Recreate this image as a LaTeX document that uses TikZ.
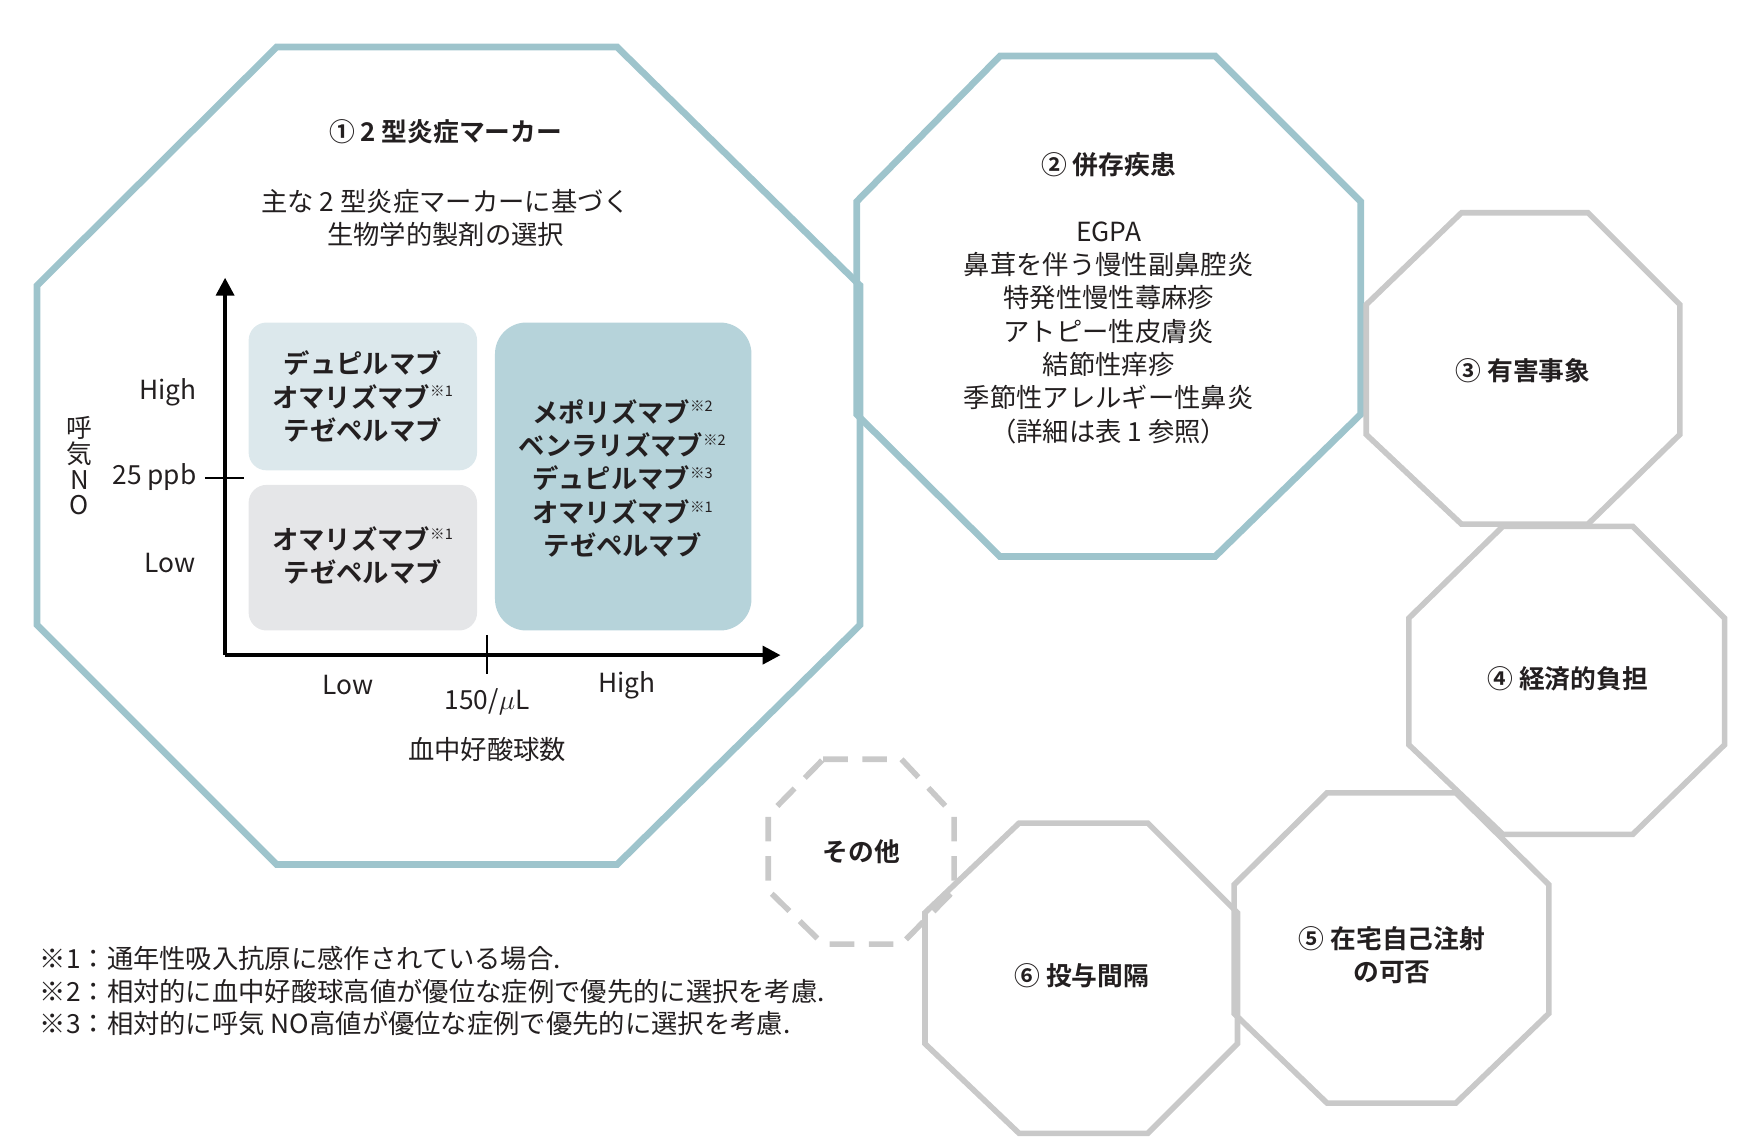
\documentclass[tikz,border=0pt]{standalone}
\usepackage{fontspec}
\setmainfont{Noto Sans CJK JP}
\newfontfamily\jpb{Noto Sans CJK JP Bold}
\usetikzlibrary{arrows.meta}
\definecolor{cblue}{HTML}{9EC4CC}
\definecolor{cgrey}{HTML}{C9C9C9}
\definecolor{bxa}{HTML}{DCE8EC}
\definecolor{bxb}{HTML}{E5E6E8}
\definecolor{bxc}{HTML}{B6D3DA}
\definecolor{txt}{HTML}{231F20}
\tikzset{
 octb/.style={draw=cblue,line width=6pt},
 octg/.style={draw=cgrey,line width=5pt},
 ttl/.style={font=\jpb\fontsize{23}{30}\selectfont,text=txt,align=center},
 bod/.style={font=\fontsize{23.5}{29.8}\selectfont,text=txt,align=center},
 drug/.style={font=\jpb\fontsize{23.5}{29.8}\selectfont,text=txt,align=center},
 note/.style={font=\fontsize{23.5}{29.5}\selectfont,text=txt,anchor=west},
}
\newcommand{\kome}[1]{\textsuperscript{\normalfont\fontsize{13}{13}\selectfont ※#1}}
\begin{document}
\begin{tikzpicture}[x=1pt,y=-1pt]
\useasboundingbox (0,0) rectangle (1560,1016);
% octagons
\draw[octb] (247,42)--(551,42)--(768,255)--(768,558)--(551,772)--(247,772)--(33,558)--(33,255)--cycle;
\draw[octb] (893,50)--(1085,50)--(1215,180)--(1215,370)--(1085,497)--(893,497)--(765,370)--(765,180)--cycle;
\draw[octg] (1305,190)--(1418,190)--(1500,272)--(1500,388)--(1418,468)--(1305,468)--(1220,388)--(1220,272)--cycle;
\draw[octg] (1342,470)--(1458,470)--(1540,552)--(1540,665)--(1458,745)--(1342,745)--(1258,665)--(1258,552)--cycle;
\draw[octg] (1185,708)--(1300,708)--(1383,790)--(1383,905)--(1300,985)--(1185,985)--(1102,905)--(1102,790)--cycle;
\draw[octg] (910,735)--(1025,735)--(1105,815)--(1105,932)--(1025,1012)--(910,1012)--(826,932)--(826,815)--cycle;
\draw[octg,dash pattern=on 22pt off 13pt] (735,678)--(805,678)--(852,728)--(852,795)--(805,843)--(735,843)--(686,795)--(686,728)--cycle;
% titles
\node[ttl] (t1) at (398,118) {① 2 型炎症マーカー};
\node[bod] (s1) at (398,195) {主な 2 型炎症マーカーに基づく\\生物学的製剤の選択};
\node[ttl] (t2) at (990,147) {② 併存疾患};
\node[bod] (s2) at (990,297) {EGPA\\鼻茸を伴う慢性副鼻腔炎\\特発性慢性蕁麻疹\\アトピー性皮膚炎\\結節性痒疹\\季節性アレルギー性鼻炎\\（詳細は表 1 参照）};
\node[ttl] (t3) at (1360,331) {③ 有害事象};
\node[ttl] (t4) at (1400,606) {④ 経済的負担};
\node[ttl] (t5) at (1243,853) {⑤ 在宅自己注射\\の可否};
\node[ttl] (t6) at (966,871) {⑥ 投与間隔};
\node[ttl] (t7) at (769,761) {その他};
% chart boxes
\fill[bxa,rounded corners=16pt] (222,288) rectangle (426,420);
\fill[bxb,rounded corners=16pt] (222,433) rectangle (426,563);
\fill[bxc,rounded corners=28pt] (442,288) rectangle (671,563);
\node[drug] (d1) at (324,354) {デュピルマブ\\オマリズマブ\kome{1}\\テゼペルマブ};
\node[drug] (d2) at (324,496) {オマリズマブ\kome{1}\\テゼペルマブ};
\node[drug] (d3) at (556,427) {メポリズマブ\kome{2}\\ベンラリズマブ\kome{2}\\デュピルマブ\kome{3}\\オマリズマブ\kome{1}\\テゼペルマブ};
% axes
\coordinate (o) at (201,585);
\coordinate (ytop) at (201,248);
\coordinate (xend) at (697,585);
\draw[line width=3.5pt,-{Triangle[length=16pt,width=16pt]}] (o)--(ytop);
\draw[line width=3.5pt,-{Triangle[length=16pt,width=16pt]}] (o)--(xend);
\draw[line width=1.5pt] (183,427)--(218,427);
\draw[line width=1.5pt] (435,567)--(435,602);
\node[bod] (hy) at (150,350) {High};
\node[bod,anchor=east] (pp) at (179,426) {25 ppb};
\node[bod] (ly) at (152,503) {Low};
\node[bod,align=center,font=\fontsize{23}{23}\selectfont] (yl) at (71,416) {呼\\気\\N\\O};
\node[bod] (lx) at (311,612) {Low};
\node[bod] (mx) at (435,627) {150/$\mu$L};
\node[bod] (hx) at (560,612) {High};
\node[bod] (xl) at (435,669) {血中好酸球数};
% notes
\node[note] (n1) at (32,856) {※1：通年性吸入抗原に感作されている場合.};
\node[note] (n2) at (32,885) {※2：相対的に血中好酸球高値が優位な症例で優先的に選択を考慮.};
\node[note] (n3) at (32,914) {※3：相対的に呼気 NO高値が優位な症例で優先的に選択を考慮.};
\end{tikzpicture}
\end{document}
